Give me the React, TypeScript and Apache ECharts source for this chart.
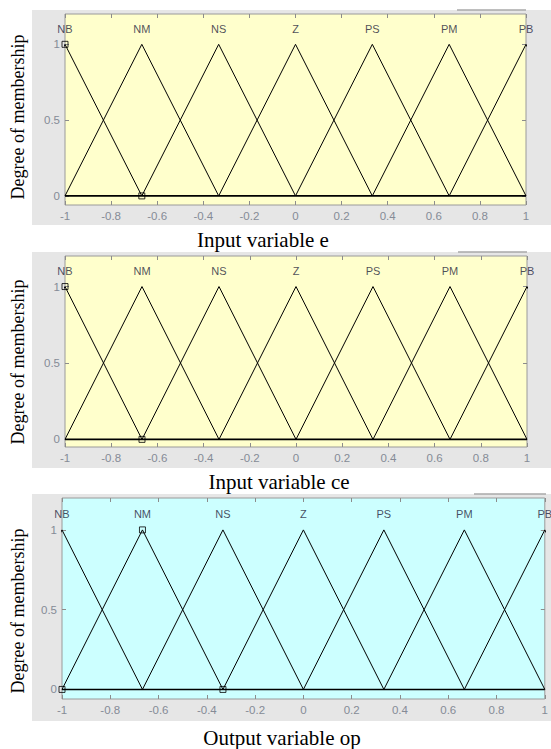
import React, { useEffect, useRef } from "react";
import * as echarts from "echarts";

// Membership function names and triangle parameters [a, b, c]
const mfNames = ["NB", "NM", "NS", "Z", "PS", "PM", "PB"];
const mfParams: number[][] = [
  [-1.3333, -1, -0.6667],
  [-1, -0.6667, -0.3333],
  [-0.6667, -0.3333, 0],
  [-0.3333, 0, 0.3333],
  [0, 0.3333, 0.6667],
  [0.3333, 0.6667, 1],
  [0.6667, 1, 1.3333],
];
const xTicks = [-1, -0.8, -0.6, -0.4, -0.2, 0, 0.2, 0.4, 0.6, 0.8, 1];
const yTicks = [0, 0.5, 1];
const zeroLine = [[-1, 0], [1, 0]];
const selectedE = [[-1, 1], [-0.6667, 0]];
const selectedCe = [[-1, 1], [-0.6667, 0]];
const selectedOp = [[-1, 0], [-0.6667, 1], [-0.3333, 0]];
const titles = ["Input variable e", "Input variable ce", "Output variable op"];
const labelLevel = 1.1;

const layout = [
  { left: 65, top: 14, width: 461, height: 191, yMin: -0.06, yMax: 1.2, bg: "#ffffcc", grayTop: 10, grayBottom: 225, titleX: 263, titleY: 240, ylabY: 117, lineX1: 457, lineX2: 526 },
  { left: 65, top: 256, width: 462, height: 191, yMin: -0.05, yMax: 1.2, bg: "#ffffcc", grayTop: 252, grayBottom: 468, titleX: 279, titleY: 482, ylabY: 362, lineX1: 458, lineX2: 527 },
  { left: 62, top: 498, width: 484, height: 201, yMin: -0.06, yMax: 1.2, bg: "#ccffff", grayTop: 494, grayBottom: 721, titleX: 282, titleY: 738, ylabY: 611, lineX1: 474, lineX2: 546 },
];
const selected = [selectedE, selectedCe, selectedOp];

const tickColor = "#858b96";
const sans = "'Liberation Sans', Arial, sans-serif";
const serif = "'Liberation Serif', 'Times New Roman', serif";

export default function App() {
  const ref = useRef<HTMLDivElement>(null);
  useEffect(() => {
    if (!ref.current) return;
    const chart = echarts.init(ref.current, undefined, { renderer: "svg" });
    const grids: any[] = [];
    const xAxes: any[] = [];
    const yAxes: any[] = [];
    const series: any[] = [];
    const graphics: any[] = [];

    layout.forEach((L, i) => {
      grids.push({
        left: L.left, top: L.top, width: L.width, height: L.height,
        show: true, backgroundColor: L.bg, borderColor: "#9a9a9a", borderWidth: 1,
      });
      const xBase = {
        gridIndex: i, type: "value", min: -1, max: 1, interval: 0.2,
        splitLine: { show: false }, axisLine: { show: false, onZero: false },
        axisTick: { inside: true, length: 4, lineStyle: { color: "#8c8c8c" } },
      };
      xAxes.push({
        ...xBase, position: "bottom",
        axisLabel: {
          margin: 5, color: tickColor, fontSize: 11.5, fontFamily: sans,
          formatter: (v: number) => String(Math.round(v * 10) / 10),
        },
      });
      xAxes.push({ ...xBase, position: "top", axisLabel: { show: false } });
      const yBase = {
        gridIndex: i, type: "value", min: L.yMin, max: L.yMax,
        splitLine: { show: false }, axisLine: { show: false, onZero: false },
        axisTick: { inside: true, length: 4, lineStyle: { color: "#8c8c8c" }, customValues: yTicks },
      };
      yAxes.push({
        ...yBase, position: "left",
        axisLabel: { margin: 5, color: tickColor, fontSize: 11.5, fontFamily: sans, customValues: yTicks },
      });
      yAxes.push({ ...yBase, position: "right", axisLabel: { show: false } });

      const xi = 2 * i;
      mfParams.forEach((p, j) => {
        series.push({
          type: "line", name: mfNames[j] + i, xAxisIndex: xi, yAxisIndex: xi,
          data: [[p[0], 0], [p[1], 1], [p[2], 0]],
          symbol: "none", clip: true, silent: true,
          lineStyle: { color: "#000", width: 1 },
        });
      });
      series.push({
        type: "line", xAxisIndex: xi, yAxisIndex: xi, data: zeroLine,
        symbol: "none", silent: true, lineStyle: { color: "#000", width: 1.6 },
      });
      series.push({
        type: "scatter", xAxisIndex: xi, yAxisIndex: xi, data: selected[i],
        symbol: "rect", symbolSize: 6, clip: false, silent: true,
        itemStyle: { color: "rgba(0,0,0,0)", borderColor: "#000", borderWidth: 1 },
        z: 5,
      });
      series.push({
        type: "scatter", xAxisIndex: xi, yAxisIndex: xi,
        data: mfParams.map((p, j) => [p[1], labelLevel, mfNames[j]]),
        symbolSize: 1, clip: false, silent: true,
        itemStyle: { color: "rgba(0,0,0,0)" },
        label: {
          show: true, position: "inside", formatter: (d: any) => d.value[2],
          color: "#1e1e3a", fontSize: 11, fontFamily: sans,
        },
        z: 6,
      });

      graphics.push({
        type: "rect", z: -10, silent: true,
        shape: { x: 32, y: L.grayTop, width: 551 - 32, height: L.grayBottom - L.grayTop },
        style: { fill: "#e6e6e6" },
      });
      graphics.push({
        type: "line", z: -5, silent: true,
        shape: { x1: L.lineX1, y1: L.grayTop, x2: L.lineX2, y2: L.grayTop },
        style: { stroke: "#a8a8a8", lineWidth: 1.5 },
      });
      graphics.push({
        type: "text", silent: true, x: L.titleX, y: L.titleY,
        style: { text: titles[i], font: `21px ${serif}`, fill: "#000", textAlign: "center", textVerticalAlign: "middle" },
      });
      graphics.push({
        type: "text", silent: true, x: 18, y: L.ylabY, rotation: Math.PI / 2,
        style: { text: "Degree of membership", font: `18px ${serif}`, fill: "#000", textAlign: "center", textVerticalAlign: "middle" },
      });
    });

    chart.setOption({
      animation: false,
      backgroundColor: "#ffffff",
      grid: grids,
      xAxis: xAxes,
      yAxis: yAxes,
      series,
      graphic: graphics,
    });
    return () => chart.dispose();
  }, []);
  return (
    <div
      ref={ref}
      style={{ position: "absolute", left: 0, top: 0, width: 551, height: 749 }}
    />
  );
}
